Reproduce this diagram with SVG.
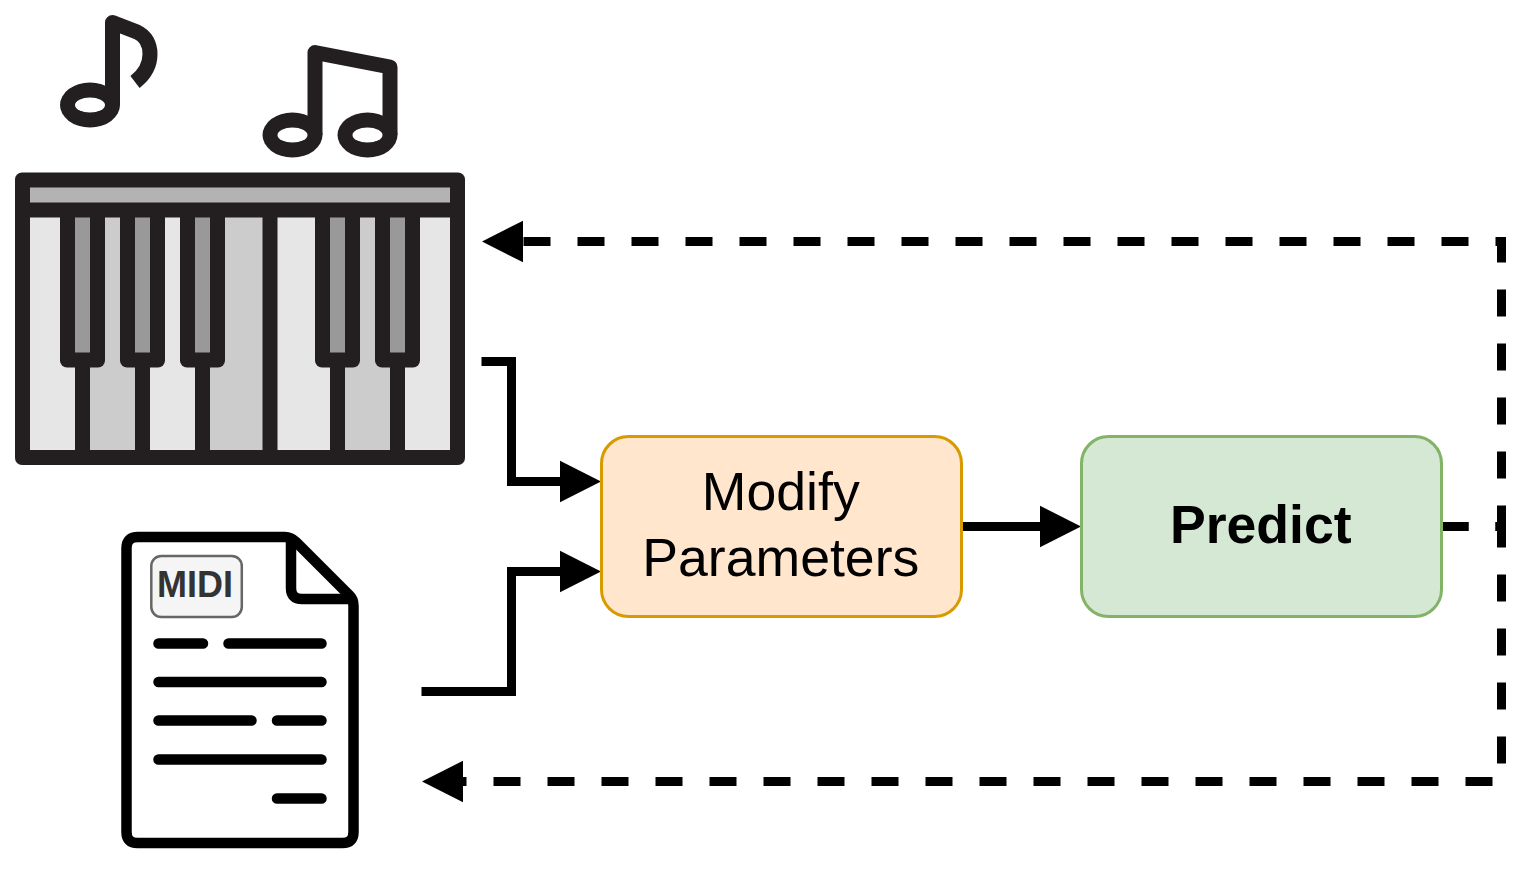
<svg xmlns="http://www.w3.org/2000/svg" width="1530" height="870" viewBox="0 0 1530 870">
<style>
.conn{fill:none;stroke:#000;stroke-width:9}
.dash{stroke-dasharray:27 27}
.box{stroke-width:3}
.label{font-family:"Liberation Sans",Arial,sans-serif;font-size:53.6px;text-anchor:middle;fill:#000}
.ink{fill:#231f20}
.hole{fill:#fff}
.note{fill:none;stroke:#231f20;stroke-width:15;stroke-linejoin:round}
.lt{fill:#e6e6e6}.md{fill:#ccc}.gr{fill:#999}
.doc{fill:#fff;stroke:#000;stroke-width:10.5;stroke-linejoin:round}
.txt{fill:none;stroke:#000;stroke-width:10.5;stroke-linecap:round}
</style>
<defs>
<marker id="arrow" markerUnits="userSpaceOnUse" markerWidth="42" markerHeight="42" refX="0" refY="20.75" orient="auto" overflow="visible">
<path d="M0,0 L41,20.75 L0,41.5 Z" fill="#000"/>
</marker>
</defs>
<g id="connectors">
<path class="conn" marker-end="url(#arrow)" d="M481.5,361.5 H511.5 V481.5 H560"/>
<path class="conn" marker-end="url(#arrow)" d="M421.5,691.5 H511.5 V571.5 H560"/>
<path class="conn" marker-end="url(#arrow)" d="M961.5,526.5 H1040"/>
<path class="conn dash" marker-end="url(#arrow)" d="M1441.5,526.5 H1501.5 V241.5 H523"/>
<path class="conn dash" marker-end="url(#arrow)" d="M1441.5,526.5 H1501.5 V781.5 H463"/>
</g>
<g id="modify">
<rect class="box" x="601.5" y="436.5" width="360" height="180" rx="27" fill="#ffe6cc" stroke="#d79b00"/>
<text class="label" x="780.8" y="510">Modify</text>
<text class="label" x="780.8" y="575.5">Parameters</text>
</g>
<g id="predict">
<rect class="box" x="1081.5" y="436.5" width="360" height="180" rx="27" fill="#d5e8d4" stroke="#82b366"/>
<text class="label" x="1260.8" y="542.5" font-weight="bold">Predict</text>
</g>
<g id="notes">
<ellipse class="ink" cx="90" cy="105" rx="30" ry="22.5"/>
<path class="note" d="M112.5,105 V22.5 L137,32 C146,36 150,45 150,54 C150,65 144,75 135,82"/>
<ellipse class="hole" cx="90" cy="105" rx="15" ry="7.5"/>
<ellipse class="ink" cx="292.5" cy="135" rx="30" ry="22.5"/>
<ellipse class="ink" cx="367.5" cy="135" rx="30" ry="22.5"/>
<path class="note" d="M315,135 V52.5 L390,67 V135"/>
<ellipse class="hole" cx="292.5" cy="135" rx="15" ry="7.5"/>
<ellipse class="hole" cx="367.5" cy="135" rx="15" ry="7.5"/>
</g>
<g id="piano">
<rect class="ink" x="15" y="172.5" width="450" height="292.5" rx="7"/>
<rect x="30" y="187.5" width="420" height="15" fill="#b3b3b3"/>
<rect class="lt" x="30" y="217.5" width="45" height="232.5"/>
<rect class="md" x="90" y="217.5" width="45" height="232.5"/>
<rect class="lt" x="150" y="217.5" width="45" height="232.5"/>
<rect class="md" x="210" y="217.5" width="52.5" height="232.5"/>
<rect class="lt" x="277.5" y="217.5" width="52.5" height="232.5"/>
<rect class="md" x="345" y="217.5" width="45" height="232.5"/>
<rect class="lt" x="405" y="217.5" width="45" height="232.5"/>
<rect class="ink" x="60" y="205" width="45" height="162.5" rx="7"/>
<rect class="ink" x="120" y="205" width="45" height="162.5" rx="7"/>
<rect class="ink" x="180" y="205" width="45" height="162.5" rx="7"/>
<rect class="ink" x="315" y="205" width="45" height="162.5" rx="7"/>
<rect class="ink" x="375" y="205" width="45" height="162.5" rx="7"/>
<rect class="gr" x="75" y="217.5" width="15" height="135"/>
<rect class="gr" x="135" y="217.5" width="15" height="135"/>
<rect class="gr" x="195" y="217.5" width="15" height="135"/>
<rect class="gr" x="330" y="217.5" width="15" height="135"/>
<rect class="gr" x="390" y="217.5" width="15" height="135"/>
</g>
<g id="midi">
<path class="doc" d="M138,537 H285 Q291,537 296,542 L349,595 Q353.5,599 353.5,606 V832 Q353.5,843 342.5,843 H137.5 Q126.5,843 126.5,832 V548 Q126.5,537 138,537 Z"/>
<path class="doc" style="fill:none" d="M291,537 V588 Q291,599 302,599 H353.5"/>
<rect x="151.3" y="556" width="90.5" height="61" rx="10" fill="#f5f5f5" stroke="#666" stroke-width="2.5"/>
<text x="195" y="597.3" text-anchor="middle" font-family="'Liberation Sans',Arial,sans-serif" font-size="36" font-weight="bold" fill="#333">MIDI</text>
<path class="txt" d="M158.5,643.5 H203 M228.5,643.5 H321.5 M158.5,682 H321.5 M158.5,720.5 H251.5 M277,720.5 H321.5 M158.5,759.5 H321.5 M277,798.5 H321.5"/>
</g>
</svg>
